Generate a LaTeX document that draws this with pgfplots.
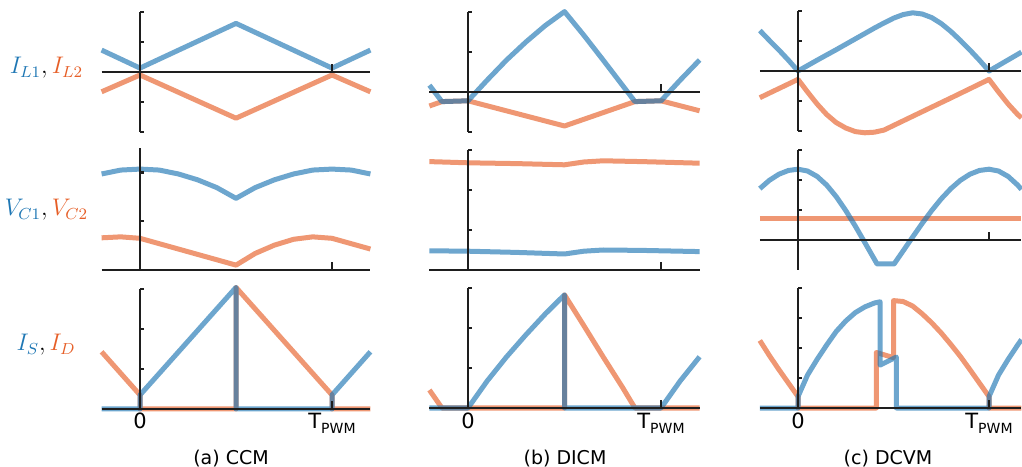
\documentclass[border=0pt]{standalone}
\usepackage{pgfplots}
\pgfplotsset{compat=1.18}
\usepackage{fontspec}
\setmainfont{DejaVu Sans}
\definecolor{lblue}{RGB}{31,119,180}
\definecolor{lorange}{RGB}{230,95,40}
\definecolor{axc}{RGB}{30,30,30}
\pgfplotsset{
  wave/.style={hide axis, clip=false, anchor=origin, xmin=-0.2, xmax=1.2},
  bl/.style={draw=lblue, draw opacity=0.65, line width=2.5pt, line join=round, mark=none},
  og/.style={draw=lorange, draw opacity=0.65, line width=2.5pt, line join=round, mark=none},
}
\tikzset{ax/.style={draw=axc, line width=1.1pt}}
\begin{document}
\begin{tikzpicture}
\useasboundingbox (0,0) rectangle (511pt,233pt);
% ================= column (a) CCM =================
\begin{axis}[wave, at={(70pt,197pt)}, x=96pt, y=15pt, ymin=-2.2, ymax=2.2]
\addplot[og] coordinates {(-0.2,-0.66) (0,-0.1) (0.5,-1.54) (1,-0.1) (1.2,-0.66)};
\addplot[bl] coordinates {(-0.2,0.73) (0,0.13) (0.5,1.62) (1,0.13) (1.2,0.73)};
\draw[ax] (axis cs:-0.2,0) -- (axis cs:1.2,0);
\draw[ax] (axis cs:0,-2) -- (axis cs:0,2);
\draw[ax] (axis cs:0,-2) -- ++(2pt,0pt);
\draw[ax] (axis cs:0,-1) -- ++(2pt,0pt);
\draw[ax] (axis cs:0,1) -- ++(2pt,0pt);
\draw[ax] (axis cs:0,2) -- ++(2pt,0pt);
\draw[ax] (axis cs:1,0) -- ++(0pt,4pt);
\end{axis}
\begin{axis}[wave, at={(70pt,98pt)}, x=96pt, y=24.375pt, ymin=-0.08, ymax=2.6]
\addplot[og] coordinates {(-0.2,0.66) (-0.1,0.68) (0,0.65) (0.1,0.54) (0.2,0.43) (0.3,0.32) (0.4,0.21) (0.5,0.10) (0.55,0.22) (0.6,0.34) (0.7,0.51) (0.8,0.63) (0.9,0.68) (1.0,0.65) (1.1,0.54) (1.2,0.43)};
\addplot[bl] coordinates {(-0.2,1.97) (-0.1,2.05) (0,2.07) (0.1,2.05) (0.2,1.97) (0.3,1.85) (0.4,1.69) (0.5,1.47) (0.6,1.69) (0.7,1.85) (0.8,1.97) (0.9,2.05) (1.0,2.07) (1.1,2.05) (1.2,1.97)};
\draw[ax] (axis cs:-0.2,0) -- (axis cs:1.2,0);
\draw[ax] (axis cs:0,0) -- (axis cs:0,2.5);
\draw[ax] (axis cs:0,1) -- ++(2pt,0pt);
\draw[ax] (axis cs:0,2) -- ++(2pt,0pt);
\draw[ax] (axis cs:1,0) -- ++(0pt,4pt);
\end{axis}
\begin{axis}[wave, at={(70pt,28.5pt)}, x=96pt, y=20pt, ymin=-0.1, ymax=3.15]
\addplot[og] coordinates {(-0.2,1.43) (0,0.35) (0,0) (0.5,0) (0.5,3.04) (1,0.35) (1,0) (1.2,0)};
\addplot[bl] coordinates {(-0.2,0) (0,0) (0,0.35) (0.5,3.04) (0.5,0) (1,0) (1,0.35) (1.2,1.43)};
\draw[ax] (axis cs:-0.2,0) -- (axis cs:1.2,0);
\draw[ax] (axis cs:0,0) -- (axis cs:0,3);
\draw[ax] (axis cs:0,1) -- ++(2pt,0pt);
\draw[ax] (axis cs:0,2) -- ++(2pt,0pt);
\draw[ax] (axis cs:0,3) -- ++(2pt,0pt);
\draw[ax] (axis cs:1,0) -- ++(0pt,4pt);
\end{axis}
% ================= column (b) DICM =================
\begin{axis}[wave, at={(234pt,187pt)}, x=96.5pt, y=20pt, ymin=-1.15, ymax=2.15]
\addplot[og] coordinates {(-0.2,-0.35) (-0.135,-0.24) (0,-0.22) (0.5,-0.85) (0.865,-0.24) (1,-0.22) (1.2,-0.47)};
\addplot[bl] coordinates {(-0.2,0.17) (-0.135,-0.24) (0,-0.22) (0.1,0.3) (0.2,0.8) (0.3,1.25) (0.4,1.66) (0.5,2.01) (0.6,1.42) (0.7,0.80) (0.8,0.17) (0.865,-0.24) (1,-0.22) (1.1,0.3) (1.2,0.8)};
\draw[ax] (axis cs:-0.2,0) -- (axis cs:1.2,0);
\draw[ax] (axis cs:0,-1) -- (axis cs:0,2);
\draw[ax] (axis cs:0,-1) -- ++(2pt,0pt);
\draw[ax] (axis cs:0,1) -- ++(2pt,0pt);
\draw[ax] (axis cs:0,2) -- ++(2pt,0pt);
\draw[ax] (axis cs:1,0) -- ++(0pt,4pt);
\end{axis}
\begin{axis}[wave, at={(234pt,98pt)}, x=96.5pt, y=20pt, ymin=-0.1, ymax=3.15]
\addplot[og] coordinates {(-0.2,2.71) (0,2.68) (0.25,2.66) (0.5,2.63) (0.6,2.70) (0.7,2.73) (0.9,2.71) (1.2,2.67)};
\addplot[bl] coordinates {(-0.2,0.48) (0,0.47) (0.25,0.44) (0.5,0.40) (0.6,0.47) (0.7,0.50) (0.9,0.49) (1.2,0.46)};
\draw[ax] (axis cs:-0.2,0) -- (axis cs:1.2,0);
\draw[ax] (axis cs:0,0) -- (axis cs:0,3);
\draw[ax] (axis cs:0,1) -- ++(2pt,0pt);
\draw[ax] (axis cs:0,2) -- ++(2pt,0pt);
\draw[ax] (axis cs:0,3) -- ++(2pt,0pt);
\draw[ax] (axis cs:1,0) -- ++(0pt,4pt);
\end{axis}
\begin{axis}[wave, at={(234pt,29pt)}, x=96.5pt, y=20pt, ymin=-0.1, ymax=3.15]
\addplot[og] coordinates {(-0.2,0.45) (-0.135,0) (0.5,0) (0.5,2.83) (0.6,2.06) (0.7,1.28) (0.8,0.52) (0.865,0) (1.2,0)};
\addplot[bl] coordinates {(-0.2,0) (0,0) (0.1,0.68) (0.2,1.28) (0.3,1.83) (0.4,2.35) (0.5,2.83) (0.5,0) (1,0) (1.1,0.68) (1.2,1.28)};
\draw[ax] (axis cs:-0.2,0) -- (axis cs:1.2,0);
\draw[ax] (axis cs:0,0) -- (axis cs:0,3);
\draw[ax] (axis cs:0,1) -- ++(2pt,0pt);
\draw[ax] (axis cs:0,2) -- ++(2pt,0pt);
\draw[ax] (axis cs:0,3) -- ++(2pt,0pt);
\draw[ax] (axis cs:1,0) -- ++(0pt,4pt);
\end{axis}
% ================= column (c) DCVM =================
\begin{axis}[wave, xmax=1.17, at={(399pt,197.5pt)}, x=95.5pt, y=15pt, ymin=-2.23, ymax=2.17]
\addplot[og] coordinates {(-0.2,-0.89) (0,-0.28) (0.05,-0.70) (0.1,-1.10) (0.15,-1.45) (0.2,-1.72) (0.25,-1.90) (0.3,-2.02) (0.35,-2.06) (0.4,-2.04) (0.45,-1.97) (0.6,-1.51) (0.8,-0.90) (1,-0.28) (1.05,-0.70) (1.1,-1.10) (1.15,-1.45) (1.17,-1.56)};
\addplot[bl] coordinates {(-0.2,1.35) (-0.15,1.02) (-0.1,0.70) (-0.05,0.36) (0,0) (0.1,0.36) (0.2,0.71) (0.3,1.07) (0.4,1.43) (0.45,1.60) (0.5,1.76) (0.55,1.88) (0.6,1.94) (0.65,1.90) (0.7,1.78) (0.75,1.58) (0.8,1.32) (0.85,1.02) (0.9,0.70) (0.95,0.36) (1,0) (1.1,0.37) (1.17,0.63)};
\draw[ax] (axis cs:-0.2,0) -- (axis cs:1.17,0);
\draw[ax] (axis cs:0,-2) -- (axis cs:0,2);
\draw[ax] (axis cs:0,-2) -- ++(2pt,0pt);
\draw[ax] (axis cs:0,-1) -- ++(2pt,0pt);
\draw[ax] (axis cs:0,1) -- ++(2pt,0pt);
\draw[ax] (axis cs:0,2) -- ++(2pt,0pt);
\draw[ax] (axis cs:1,0) -- ++(0pt,4pt);
\end{axis}
\begin{axis}[wave, xmax=1.17, at={(399pt,113pt)}, x=95.5pt, y=15pt, ymin=-1.13, ymax=3.2]
\addplot[og] coordinates {(-0.2,0.72) (1.17,0.72)};
\addplot[bl] coordinates {(-0.2,1.712) (-0.15,1.989) (-0.1,2.193) (-0.05,2.318) (0,2.36) (0.05,2.299) (0.1,2.12) (0.15,1.831) (0.2,1.446) (0.25,0.982) (0.3,0.463) (0.35,-0.088) (0.4,-0.644) (0.414,-0.8) (0.503,-0.8) (0.55,-0.367) (0.6,0.097) (0.65,0.552) (0.7,0.982) (0.75,1.373) (0.8,1.712) (0.85,1.989) (0.9,2.193) (0.95,2.318) (1,2.36) (1.05,2.299) (1.1,2.12) (1.15,1.831) (1.17,1.687)};
\draw[ax] (axis cs:-0.2,0) -- (axis cs:1.17,0);
\draw[ax] (axis cs:0,-1) -- (axis cs:0,3);
\draw[ax] (axis cs:0,1) -- ++(2pt,0pt);
\draw[ax] (axis cs:0,2) -- ++(2pt,0pt);
\draw[ax] (axis cs:0,3) -- ++(2pt,0pt);
\draw[ax] (axis cs:1,0) -- ++(0pt,4pt);
\end{axis}
\begin{axis}[wave, xmax=1.17, at={(399pt,29pt)}, x=95.5pt, y=15pt, ymin=-0.17, ymax=4.17]
\addplot[og] coordinates {(-0.2,2.25) (-0.15,1.75) (-0.1,1.28) (-0.05,0.83) (0,0.38) (0,0) (0.41,0) (0.41,1.85) (0.50,1.68) (0.50,3.58) (0.55,3.55) (0.6,3.4) (0.65,3.14) (0.7,2.84) (0.75,2.5) (0.8,2.12) (0.85,1.72) (0.9,1.28) (0.95,0.83) (1,0.38) (1,0) (1.17,0)};
\addplot[bl] coordinates {(-0.2,0) (0,0) (0,0.38) (0.05,1.1) (0.1,1.62) (0.15,2.1) (0.2,2.55) (0.25,2.9) (0.3,3.18) (0.35,3.37) (0.4,3.5) (0.43,3.54) (0.43,1.43) (0.515,1.70) (0.515,0) (1,0) (1,0.38) (1.05,1.1) (1.1,1.62) (1.15,2.1) (1.17,2.28)};
\draw[ax] (axis cs:-0.2,0) -- (axis cs:1.17,0);
\draw[ax] (axis cs:0,0) -- (axis cs:0,4);
\draw[ax] (axis cs:0,1) -- ++(2pt,0pt);
\draw[ax] (axis cs:0,2) -- ++(2pt,0pt);
\draw[ax] (axis cs:0,3) -- ++(2pt,0pt);
\draw[ax] (axis cs:0,4) -- ++(2pt,0pt);
\draw[ax] (axis cs:1,0) -- ++(0pt,4pt);
\end{axis}
% ================= labels =================
\node at (23.25pt,199pt) {\fontsize{11.5}{13}\selectfont ${\color{lblue}I_{L1}},{\color{lorange}I_{L2}}$};
\node at (23.25pt,128pt) {\fontsize{11.5}{13}\selectfont ${\color{lblue}V_{C1}},{\color{lorange}V_{C2}}$};
\node at (23pt,60.5pt) {\fontsize{11.5}{13}\selectfont ${\color{lblue}I_{S}},{\color{lorange}I_{D}}$};
\node[anchor=base] at (70pt,18.9pt) {\fontsize{10.5}{12}\selectfont 0};
\node[anchor=base] at (234pt,18.9pt) {\fontsize{10.5}{12}\selectfont 0};
\node[anchor=base] at (399pt,18.9pt) {\fontsize{10.5}{12}\selectfont 0};
\node[anchor=base] at (166pt,18.9pt) {\fontsize{10.5}{12}\selectfont T\raisebox{-2.5pt}{\fontsize{7}{8}\selectfont PWM}};
\node[anchor=base] at (330.5pt,18.9pt) {\fontsize{10.5}{12}\selectfont T\raisebox{-2.5pt}{\fontsize{7}{8}\selectfont PWM}};
\node[anchor=base] at (494.5pt,18.9pt) {\fontsize{10.5}{12}\selectfont T\raisebox{-2.5pt}{\fontsize{7}{8}\selectfont PWM}};
\node[anchor=base] at (115.5pt,1pt) {\fontsize{9.5}{11}\selectfont (a) CCM};
\node[anchor=base] at (282.5pt,1pt) {\fontsize{9.5}{11}\selectfont (b) DICM};
\node[anchor=base] at (444pt,1pt) {\fontsize{9.5}{11}\selectfont (c) DCVM};
\end{tikzpicture}
\end{document}
